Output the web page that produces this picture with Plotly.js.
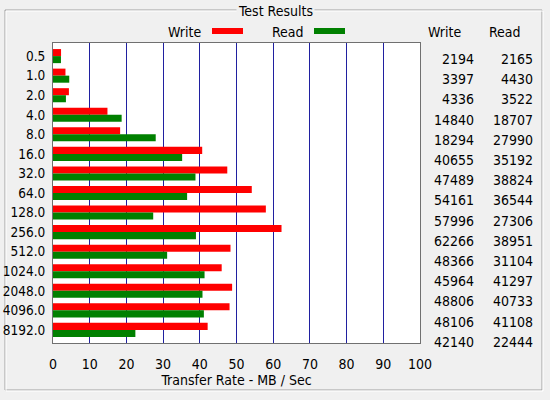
<!DOCTYPE html>
<html><head><meta charset="utf-8">
<script src="https://cdn.plot.ly/plotly-3.0.1.min.js"></script>
<style>html,body{margin:0;padding:0;background:#f0f0f0;}#chart{width:550px;height:400px;}</style>
</head><body><div id="chart"></div>
<script>
const sizes = ["0.5","1.0","2.0","4.0","8.0","16.0","32.0","64.0","128.0","256.0","512.0","1024.0","2048.0","4096.0","8192.0"];
const writeKB = [2194,3397,4336,14840,18294,40655,47489,54161,57996,62266,48366,45964,48806,48106,42140];
const readKB  = [2165,4430,3522,18707,27990,35192,38824,36544,27306,38951,31104,41297,40733,41108,22444];
const xTicks = [0,10,20,30,40,50,60,70,80,90,100];

const FONT = "'DejaVu Sans Condensed', 'Liberation Sans', Arial, sans-serif";
const fs = 14;

const W = 550, H = 400, L = 53, R = 420, T = 43, B = 343;
const px = x => (x - L) / (R - L);
const py = y => (B - y) / (B - T);
const txt = (x, y, t, anchor, extra) => Object.assign({xref:'paper', yref:'paper', x:px(x), y:py(y), text:t, showarrow:false,
  xanchor:anchor, yanchor:'middle', font:{family:FONT, size:fs, color:'#000'}}, extra || {});

const traces = [
  {type:'bar', orientation:'h', name:'Write', y:sizes, x:writeKB.map(v=>v/1000),
   marker:{color:'#ff0000', line:{width:0}}, hoverinfo:'skip'},
  {type:'bar', orientation:'h', name:'Read', y:sizes, x:readKB.map(v=>v/1000),
   marker:{color:'#008000', line:{width:0}}, hoverinfo:'skip'}
];

const annotations = [];
const shapes = [];
shapes.push({type:'rect', xref:'paper', yref:'paper', x0:px(5), x1:px(542), y0:py(390), y1:py(10), line:{color:'#a0a0a0', width:1}, layer:'below'});
shapes.push({type:'rect', xref:'paper', yref:'paper', x0:px(6), x1:px(543), y0:py(391), y1:py(11), line:{color:'#ffffff', width:1}, layer:'below'});
annotations.push(txt(275, 11, 'Test Results', 'center', {bgcolor:'#f0f0f0', borderpad:1}));
annotations.push(txt(203, 32, 'Write', 'right'));
annotations.push(txt(306, 32, 'Read', 'right'));
shapes.push({type:'line', xref:'paper', yref:'paper', x0:px(212), x1:px(243), y0:py(31), y1:py(31), line:{color:'#ff0000', width:6}});
shapes.push({type:'line', xref:'paper', yref:'paper', x0:px(314), x1:px(345), y0:py(31), y1:py(31), line:{color:'#008000', width:6}});
annotations.push(txt(463, 32, 'Write', 'right'));
annotations.push(txt(523, 32, 'Read', 'right'));
for (let i = 0; i < sizes.length; i++) {
  const yy = 59 + i * 20.2;
  annotations.push(txt(476, yy, String(writeKB[i]), 'right'));
  annotations.push(txt(535, yy, String(readKB[i]), 'right'));
}

const layout = {
  width:W, height:H,
  margin:{l:L, r:W-R, t:T, b:H-B, pad:0},
  paper_bgcolor:'#f0f0f0', plot_bgcolor:'#ffffff',
  showlegend:false,
  barmode:'group', bargap:0.28, bargroupgap:0,
  font:{family:FONT, size:fs, color:'#000'},
  xaxis:{range:[0,100], tickvals:xTicks, ticktext:xTicks.map(String), ticks:'', showgrid:true, gridcolor:'#2020a0', gridwidth:1,
         zeroline:false, showline:true, linecolor:'#707070', linewidth:1, mirror:true, ticklabelstandoff:8,
         tickfont:{family:FONT, size:fs, color:'#000'},
         title:{text:'Transfer Rate - MB / Sec', font:{family:FONT, size:fs, color:'#000'}, standoff:2}},
  yaxis:{type:'category', range:[14.67,-0.67], ticks:'', showgrid:false, zeroline:false, showline:true, linecolor:'#707070', linewidth:1, mirror:true,
         ticklabelstandoff:4, tickfont:{family:FONT, size:13.5, color:'#000'}},
  shapes:shapes, annotations:annotations
};
Plotly.newPlot('chart', traces, layout, {staticPlot:true, displayModeBar:false});
</script></body></html>
